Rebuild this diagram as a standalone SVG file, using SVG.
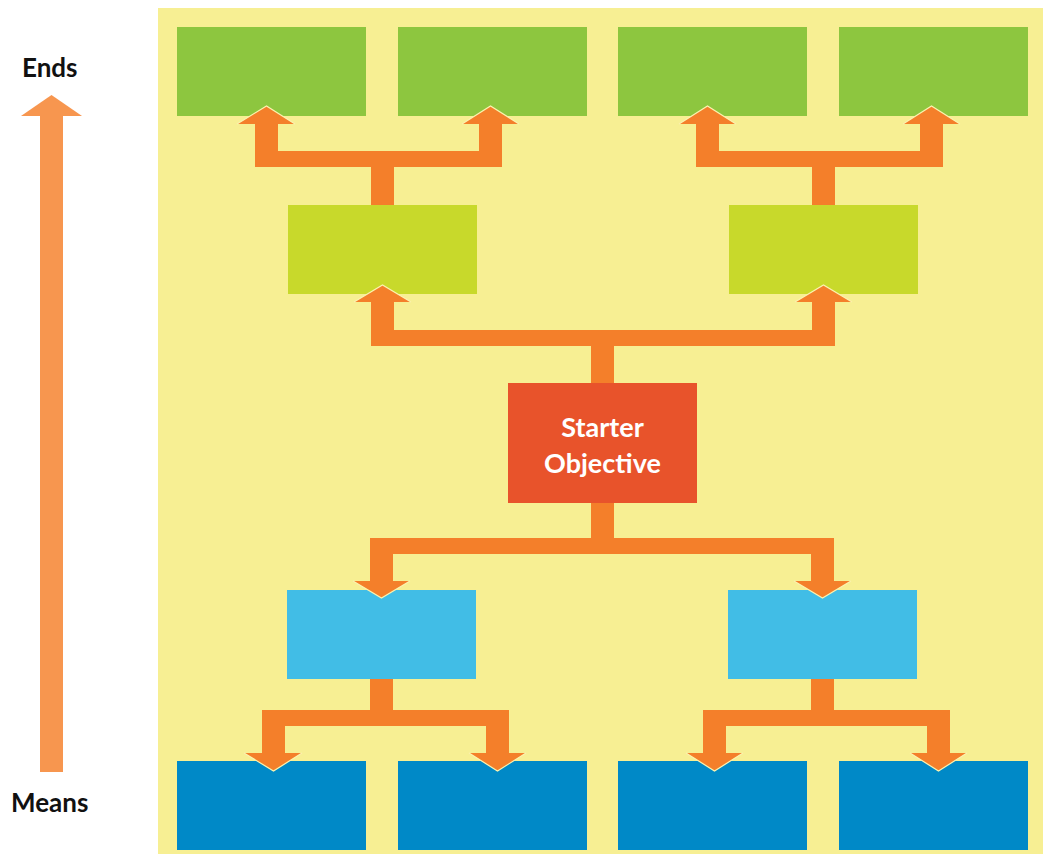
<svg xmlns="http://www.w3.org/2000/svg" width="1043" height="854" viewBox="0 0 1043 854">
<style>
.bg{fill:#F7EF93}
.top{fill:#8DC63F}
.mid{fill:#C8D92B}
.lb{fill:#41BDE6}
.db{fill:#0089C7}
.red{fill:#E8532B}
.con{fill:#F47F2A}
.edge{fill:none;stroke:#FBF3B0;stroke-width:1.2}
.lbl{font-family:Lato,"Open Sans","Liberation Sans",sans-serif;font-weight:bold;font-size:26px;fill:#111}
.wt{font-family:Lato,"Open Sans","Liberation Sans",sans-serif;font-weight:bold;font-size:27px;fill:#fff;text-anchor:middle}
</style>
<rect class="bg" x="158" y="8" width="885" height="846"/>

<g id="axis">
  <rect x="40" y="115" width="23" height="657" fill="#F7964F"/>
  <polygon points="21,116 51.5,95 82,116" fill="#F7964F"/>
  <text class="lbl" x="22" y="77">Ends</text>
  <text class="lbl" x="11" y="812">Means</text>
</g>

<g id="end1"><rect class="top" x="177" y="27" width="189" height="89"/></g>
<g id="end2"><rect class="top" x="398" y="27" width="189" height="89"/></g>
<g id="end3"><rect class="top" x="618" y="27" width="189" height="89"/></g>
<g id="end4"><rect class="top" x="839" y="27" width="189" height="89"/></g>
<g id="midL"><rect class="mid" x="288" y="205" width="189" height="89"/></g>
<g id="midR"><rect class="mid" x="729" y="205" width="189" height="89"/></g>
<g id="starter">
  <rect class="red" x="508" y="383" width="189" height="120"/>
  <text class="wt" x="602.5" y="437">Starter</text>
  <text class="wt" x="602.5" y="473">Objective</text>
</g>
<g id="meansL"><rect class="lb" x="287" y="590" width="189" height="89"/></g>
<g id="meansR"><rect class="lb" x="728" y="590" width="189" height="89"/></g>
<g id="base1"><rect class="db" x="177" y="761" width="189" height="89"/></g>
<g id="base2"><rect class="db" x="398" y="761" width="189" height="89"/></g>
<g id="base3"><rect class="db" x="618" y="761" width="189" height="89"/></g>
<g id="base4"><rect class="db" x="839" y="761" width="189" height="89"/></g>

<g id="connectors">
  <!-- top left -->
  <path class="con" d="M371,205 H394 V167 H502 V124 H479 V151 H278 V124 H255 V167 H371 Z"/>
  <polygon class="con" points="237,124 266.5,106 295,124"/>
  <polyline class="edge" points="237,124 266.5,106 295,124"/>
  <polygon class="con" points="462,124 490.5,106 519,124"/>
  <polyline class="edge" points="462,124 490.5,106 519,124"/>
  <!-- top right -->
  <path class="con" d="M812,205 H835 V167 H943 V124 H920 V151 H719 V124 H696 V167 H812 Z"/>
  <polygon class="con" points="679,124 707.5,106 736,124"/>
  <polyline class="edge" points="679,124 707.5,106 736,124"/>
  <polygon class="con" points="903,124 931.5,106 960,124"/>
  <polyline class="edge" points="903,124 931.5,106 960,124"/>
  <!-- middle up -->
  <path class="con" d="M591,383 H614 V346 H835 V302 H812 V330 H394 V302 H371 V346 H591 Z"/>
  <polygon class="con" points="354,302 382.5,285 411,302"/>
  <polyline class="edge" points="354,302 382.5,285 411,302"/>
  <polygon class="con" points="795,302 823.5,285 852,302"/>
  <polyline class="edge" points="795,302 823.5,285 852,302"/>
  <!-- middle down -->
  <path class="con" d="M591,503 H614 V538 H834 V581 H811 V554 H393 V581 H370 V538 H591 Z"/>
  <polygon class="con" points="353,581 381.5,598 410,581"/>
  <polyline class="edge" points="353,581 381.5,598 410,581"/>
  <polygon class="con" points="794,581 822.5,598 851,581"/>
  <polyline class="edge" points="794,581 822.5,598 851,581"/>
  <!-- bottom left -->
  <path class="con" d="M370,679 H393 V710 H509 V753 H486 V726 H285 V753 H262 V710 H370 Z"/>
  <polygon class="con" points="244,753 273.5,771 302,753"/>
  <polyline class="edge" points="244,753 273.5,771 302,753"/>
  <polygon class="con" points="469,753 497.5,771 526,753"/>
  <polyline class="edge" points="469,753 497.5,771 526,753"/>
  <!-- bottom right -->
  <path class="con" d="M811,679 H834 V710 H950 V753 H927 V726 H726 V753 H703 V710 H811 Z"/>
  <polygon class="con" points="686,753 714.5,771 743,753"/>
  <polyline class="edge" points="686,753 714.5,771 743,753"/>
  <polygon class="con" points="910,753 938.5,771 967,753"/>
  <polyline class="edge" points="910,753 938.5,771 967,753"/>
</g>
</svg>
